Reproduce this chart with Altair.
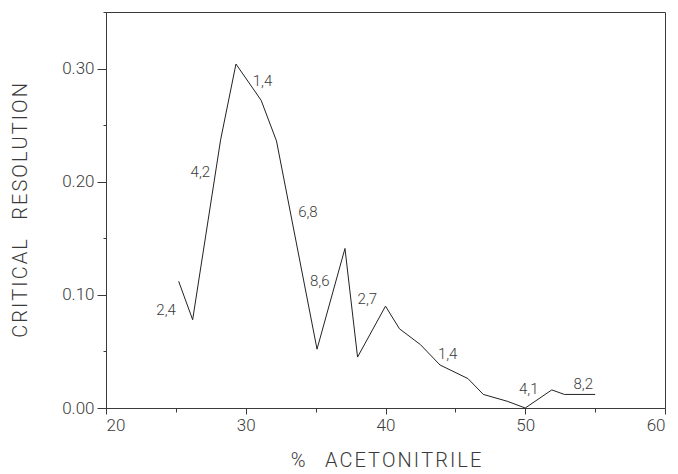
import altair as alt
import pandas as pd

# data
acn = [25.2, 26.2, 28.2, 29.3, 31.1, 32.2, 35.1, 37.1, 38.0, 40.0, 41.0, 42.5,
       43.9, 45.9, 47.0, 48.7, 50.0, 51.9, 52.8, 55.0]
res = [0.112, 0.078, 0.237, 0.304, 0.272, 0.236, 0.052, 0.141, 0.045, 0.090, 0.070, 0.056,
       0.038, 0.026, 0.012, 0.006, 0.000, 0.016, 0.012, 0.012]

lab_text = ["2,4", "4,2", "1,4", "6,8", "8,6", "2,7", "1,4", "4,1", "8,2"]
lab_x = [24.3, 26.75, 31.2, 34.45, 35.3, 38.7, 44.45, 50.25, 54.15]
lab_y = [0.087, 0.209, 0.289, 0.173, 0.112, 0.096, 0.048, 0.017, 0.021]

x_ticks = [20, 25, 30, 35, 40, 45, 50, 55, 60]
y_ticks = [0.0, 0.05, 0.10, 0.15, 0.20, 0.25, 0.30, 0.35]


def spaced(words):
    hs = "\u200a"
    return ("\u00a0" * 4).join(hs.join(w) for w in words)


x_title = "%" + "\u00a0" * 4 + "\u200a".join("ACETONITRILE")
y_title = spaced(["CRITICAL", "RESOLUTION"])

df = pd.DataFrame({"x": acn, "y": res})
lab = pd.DataFrame({"t": lab_text, "x": lab_x, "y": lab_y})

FONT = "Roboto, Liberation Sans, sans-serif"
INK = "#3a3a3a"

xscale = alt.Scale(domain=[20, 60], nice=False, zero=False)
yscale = alt.Scale(domain=[0, 0.35], nice=False)

xaxis = alt.Axis(
    values=x_ticks,
    title=x_title,
    labelExpr="datum.value % 10 == 0 ? datum.label : ''",
    grid=False,
    tickSize={"condition": {"test": "datum.value % 10 == 0", "value": 6}, "value": 4},
    labelPadding=3,
    labelFontSize=17,
    titleFontSize=20,
    titleX=279.5,
    titleY=52,
    titleAlign="center",
    titleBaseline="middle",
)
yaxis = alt.Axis(
    values=y_ticks,
    title=y_title,
    labelExpr="round(datum.value*100) % 10 == 0 ? format(datum.value, '.2f') : ''",
    grid=False,
    tickSize={"condition": {"test": "round(datum.value*100) % 10 == 0", "value": 9}, "value": 3},
    labelPadding=3,
    labelFontSize=17,
    titleFontSize=20,
    titleAngle=-90,
    titleX=-86,
    titleY=198,
    titleAlign="center",
    titleBaseline="middle",
)

line = alt.Chart(df).mark_line(color="#222222", strokeWidth=1).encode(
    x=alt.X("x:Q", scale=xscale, axis=xaxis),
    y=alt.Y("y:Q", scale=yscale, axis=yaxis),
)

text = alt.Chart(lab).mark_text(
    font=FONT, fontSize=15, fontWeight=300, color=INK, align="center", baseline="middle"
).encode(
    x=alt.X("x:Q", scale=xscale),
    y=alt.Y("y:Q", scale=yscale),
    text="t:N",
)

chart = (
    alt.layer(line, text)
    .properties(
        width=559,
        height=396,
        autosize=alt.AutoSizeParams(type="none"),
        padding={"left": 98, "top": 4, "right": 5, "bottom": 62},
    )
    .configure_view(stroke=INK, strokeWidth=1)
    .configure_axis(
        domainColor=INK,
        tickColor=INK,
        labelColor=INK,
        titleColor=INK,
        labelFont=FONT,
        titleFont=FONT,
        labelFontWeight=300,
        titleFontWeight=300,
    )
)

chart.save("out.html", embed_options={"renderer": "svg", "actions": False})
